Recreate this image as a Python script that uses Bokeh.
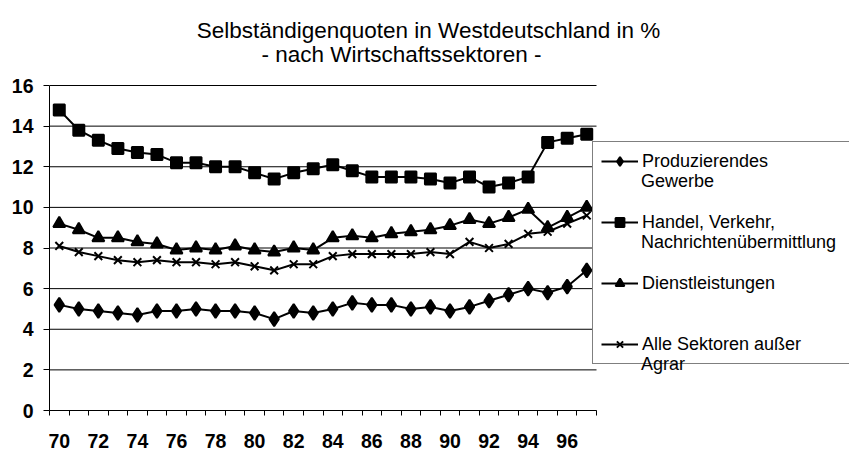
from bokeh.plotting import figure
from bokeh.models import Legend, LegendItem, Label, FixedTicker
from bokeh.embed import file_html
from bokeh.resources import INLINE

years = list(range(70, 98))
tick_years = list(range(70, 98, 2))
y_ticks = [0, 2, 4, 6, 8, 10, 12, 14, 16]

produzierendes_gewerbe = [5.2, 5.0, 4.9, 4.8, 4.7, 4.9, 4.9, 5.0, 4.9, 4.9,
                          4.8, 4.5, 4.9, 4.8, 5.0, 5.3, 5.2, 5.2, 5.0, 5.1,
                          4.9, 5.1, 5.4, 5.7, 6.0, 5.8, 6.1, 6.9]
handel_verkehr = [14.8, 13.8, 13.3, 12.9, 12.7, 12.6, 12.2, 12.2, 12.0, 12.0,
                  11.7, 11.4, 11.7, 11.9, 12.1, 11.8, 11.5, 11.5, 11.5, 11.4,
                  11.2, 11.5, 11.0, 11.2, 11.5, 13.2, 13.4, 13.6]
dienstleistungen = [9.2, 8.9, 8.5, 8.5, 8.3, 8.2, 7.9, 8.0, 7.9, 8.1,
                    7.9, 7.8, 8.0, 7.9, 8.5, 8.6, 8.5, 8.7, 8.8, 8.9,
                    9.1, 9.4, 9.2, 9.5, 9.9, 9.0, 9.5, 10.0]
alle_sektoren = [8.1, 7.8, 7.6, 7.4, 7.3, 7.4, 7.3, 7.3, 7.2, 7.3,
                 7.1, 6.9, 7.2, 7.2, 7.6, 7.7, 7.7, 7.7, 7.7, 7.8,
                 7.7, 8.3, 8.0, 8.2, 8.7, 8.8, 9.2, 9.6]

legend_first_lines = ["Produzierendes", "Handel, Verkehr,", "Dienstleistungen", "Alle Sektoren außer"]
legend_second_lines = ["Gewerbe", "Nachrichtenübermittlung", " ", "Agrar"]
title1 = "Selbständigenquoten in Westdeutschland in %"
title2 = "- nach Wirtschaftssektoren -"

FONT = "Liberation Sans"

# layout (pixels)
W, H = 849, 453
BORDER_LEFT, BORDER_BOTTOM = 49, 43
PLOT_W, PLOT_H = 547, 325          # width of the 28 years, height of 0..16
FRAME_W, FRAME_H = W - BORDER_LEFT, H - BORDER_BOTTOM
x0, x1 = years[0] - 0.5, years[-1] + 0.5
y0, y1 = y_ticks[0], y_ticks[-1]
x_end = x0 + (x1 - x0) * FRAME_W / PLOT_W
y_end = y0 + (y1 - y0) * FRAME_H / PLOT_H

p = figure(width=W, height=H, x_range=(x0, x_end), y_range=(y0, y_end),
           output_backend="svg", toolbar_location=None,
           min_border_left=BORDER_LEFT, min_border_right=0,
           min_border_top=0, min_border_bottom=BORDER_BOTTOM)
p.outline_line_color = None
p.background_fill_color = "white"
p.border_fill_color = "white"
p.xgrid.visible = False
p.ygrid.visible = False

p.yaxis.ticker = FixedTicker(ticks=y_ticks)
p.xaxis.ticker = FixedTicker(ticks=tick_years, minor_ticks=[y - 0.5 for y in years + [years[-1] + 1]])
p.xaxis.bounds = (x0, x1)
p.yaxis.bounds = (y0, y1)

for ax in (p.xaxis[0], p.yaxis[0]):
    ax.axis_line_color = "black"
    ax.axis_line_width = 1
    ax.major_label_text_font = FONT
    ax.major_label_text_font_size = "19.5px"
    ax.major_label_text_font_style = "bold"
    ax.major_label_text_color = "black"

p.xaxis.major_tick_out = 0
p.xaxis.major_tick_in = 0
p.xaxis.minor_tick_out = 5
p.xaxis.minor_tick_in = 0
p.xaxis.minor_tick_line_color = "black"
p.xaxis.major_label_standoff = 18

p.yaxis.major_tick_out = 6
p.yaxis.major_tick_in = 0
p.yaxis.major_tick_line_color = "black"
p.yaxis.minor_tick_line_color = None
p.yaxis.major_label_standoff = 10

# horizontal grid lines over the plot area only
p.segment(x0=x0, x1=x1, y0=y_ticks, y1=y_ticks, line_color="black", line_width=1)

series = [
    (produzierendes_gewerbe, "diamond", 14),
    (handel_verkehr, "square", 11),
    (dienstleistungen, "triangle", 12),
    (alle_sektoren, "x", 11),
]

items_a = []
items_b = []
for (vals, marker, size), lab1, lab2 in zip(series, legend_first_lines, legend_second_lines):
    rl = p.line(years, vals, line_color="black", line_width=2)
    rm = p.scatter(years, vals, marker=marker, size=size,
                   fill_color="black", line_color="black", line_width=2)
    items_a.append(LegendItem(label=lab1, renderers=[rl, rm]))
    items_b.append(LegendItem(label=lab2, renderers=[]))

common = dict(margin=0, label_text_font=FONT, label_text_font_size="18px",
              label_text_color="black", glyph_width=37, glyph_height=22,
              label_height=22, label_standoff=4, padding=8, spacing=39)

legend_a = Legend(items=items_a, location=(543, 46),
                  border_line_color="black", border_line_width=1,
                  background_fill_color="white", background_fill_alpha=1,
                  label_width=199, **common)
legend_b = Legend(items=items_b, location=(551, 35),
                  border_line_color=None, background_fill_alpha=0,
                  label_width=199, **common)
p.add_layout(legend_a, "center")
p.add_layout(legend_b, "center")

p.add_layout(Label(x=379, y=380, x_units="screen", y_units="screen", text=title1,
                   text_align="center", text_baseline="middle",
                   text_font=FONT, text_font_size="22.5px", text_color="black"))
p.add_layout(Label(x=352, y=356, x_units="screen", y_units="screen", text=title2,
                   text_align="center", text_baseline="middle",
                   text_font=FONT, text_font_size="22.5px", text_color="black"))

open("out.html", "w").write(file_html(p, INLINE))
